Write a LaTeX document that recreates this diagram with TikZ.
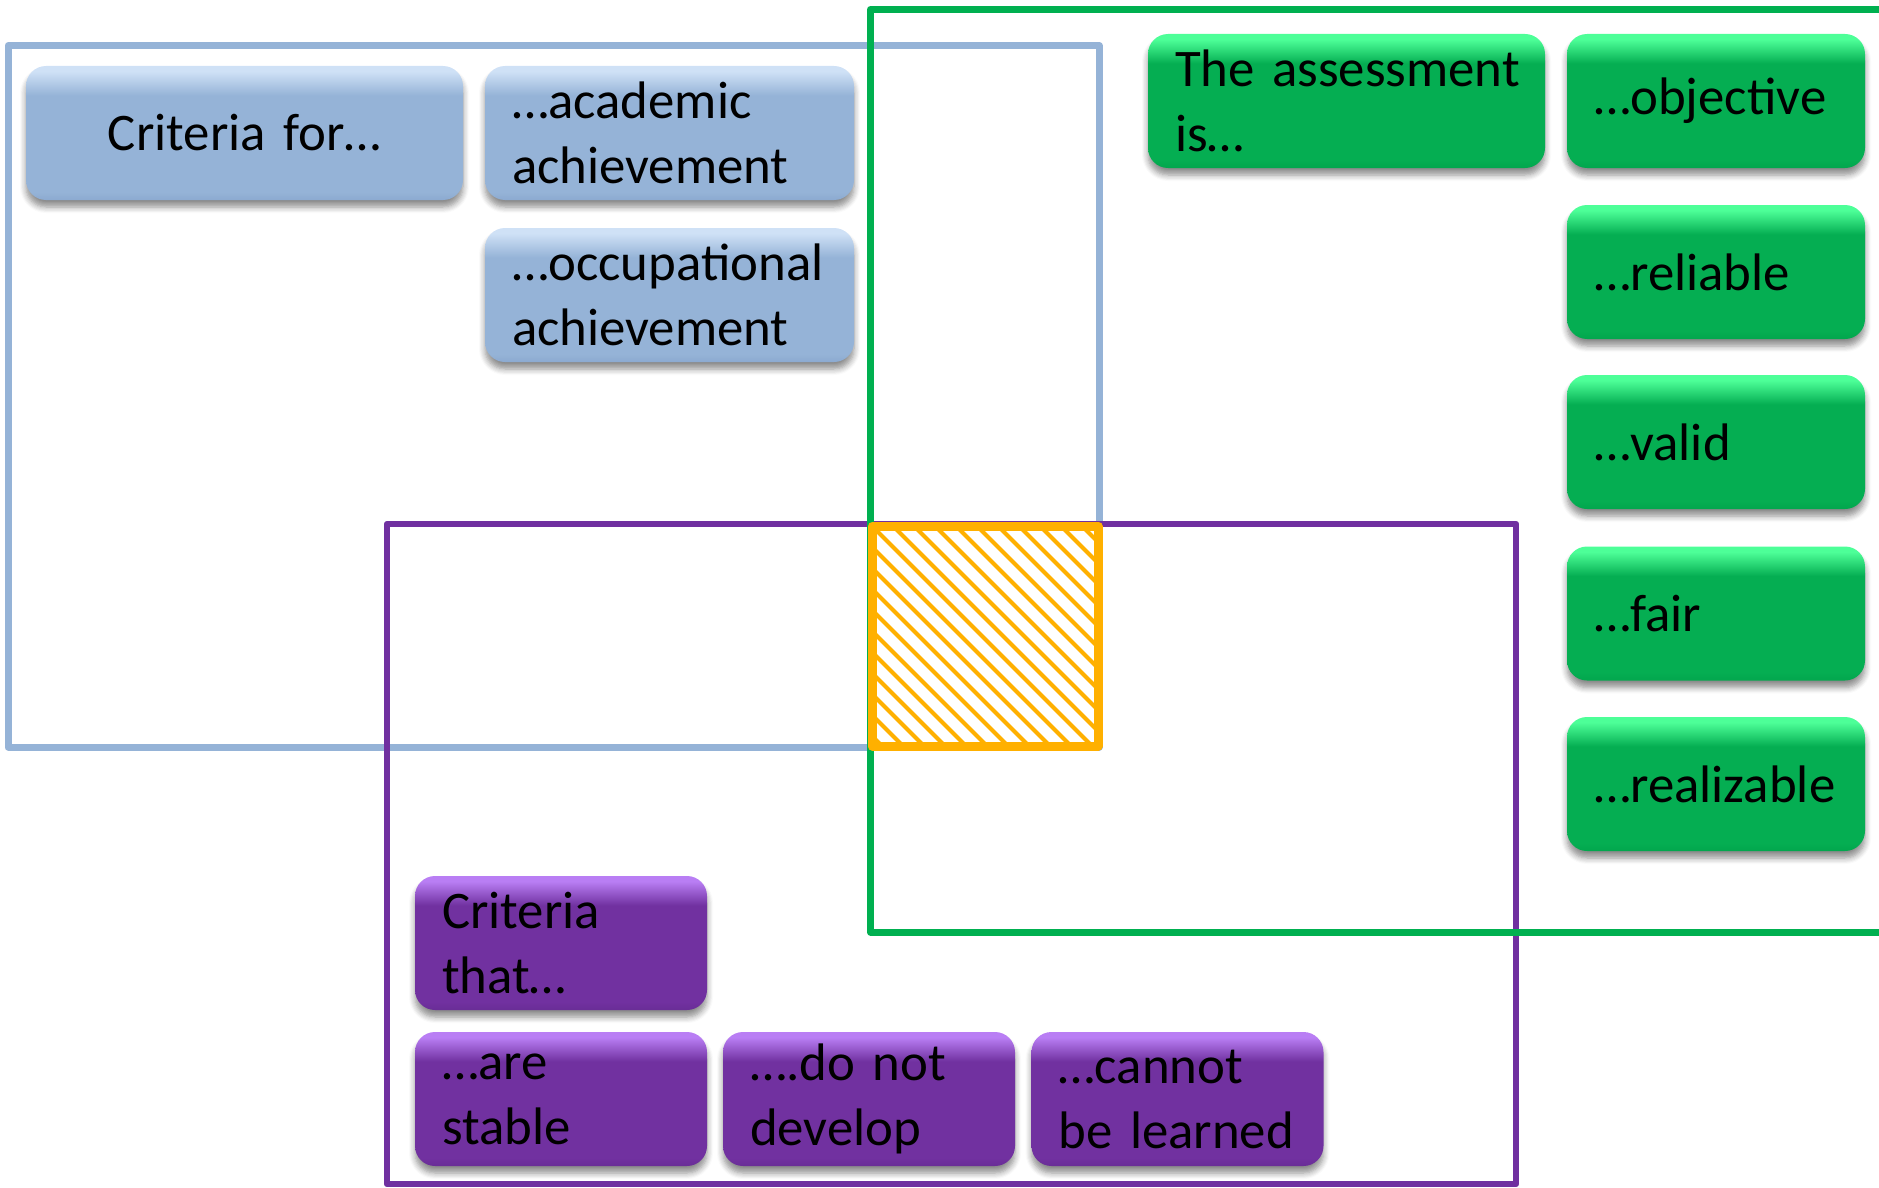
\documentclass[tikz,border=0pt]{standalone}
\usepackage{fontspec}
\setmainfont{Carlito}
\usetikzlibrary{shadows.blur}

% frame colours
\definecolor{framblue}{HTML}{95B3D7}
\definecolor{framgreen}{HTML}{00B050}
\definecolor{frampurple}{HTML}{7030A0}
\definecolor{framorange}{HTML}{FFB000}

% tile colours
\definecolor{bluebase}{HTML}{95B3D7}
\definecolor{bluelight}{HTML}{CFE1F6}
\definecolor{bluedark}{HTML}{8CAAD0}
\definecolor{greenbase}{HTML}{05AE52}
\definecolor{greenlight}{HTML}{4DFF98}
\definecolor{greendark}{HTML}{02A64D}
\definecolor{purplebase}{HTML}{7131A0}
\definecolor{purplelight}{HTML}{B97EF4}
\definecolor{purpledark}{HTML}{692D96}

% glossy vertical shadings (box mapped onto 25bp..75bp)
\pgfdeclareverticalshading{blueshade}{100bp}{color(0bp)=(bluedark); color(25bp)=(bluedark); color(28bp)=(bluebase); color(64bp)=(bluebase); color(73bp)=(bluelight); color(75bp)=(bluelight); color(100bp)=(bluelight)}
\pgfdeclareverticalshading{greenshade}{100bp}{color(0bp)=(greendark); color(25bp)=(greendark); color(28bp)=(greenbase); color(64bp)=(greenbase); color(73bp)=(greenlight); color(75bp)=(greenlight); color(100bp)=(greenlight)}
\pgfdeclareverticalshading{purpleshade}{100bp}{color(0bp)=(purpledark); color(25bp)=(purpledark); color(28bp)=(purplebase); color(64bp)=(purplebase); color(73bp)=(purplelight); color(75bp)=(purplelight); color(100bp)=(purplelight)}

\newcommand\tilefont{\fontsize{26.4pt}{32.5pt}\selectfont\hyphenpenalty=10000\relax}

\begin{document}
\begin{tikzpicture}[x=0.5pt,y=-0.5pt,
  framline/.style={line width=3.5pt, line join=round},
  tile/.style={rounded corners=10pt, minimum height=67pt, inner xsep=13.5pt,
    inner ysep=0pt, align=left, font=\tilefont, text=black,
    blur shadow={shadow xshift=0pt, shadow yshift=-3.5pt, shadow opacity=45,
      shadow blur steps=6, shadow blur radius=3pt}},
  bluetile/.style={tile, shade, shading=blueshade},
  greentile/.style={tile, shade, shading=greenshade},
  purpletile/.style={tile, shade, shading=purpleshade},
  wideblue/.style={text width=191.5pt, minimum width=218.5pt},
  midblue/.style={text width=157.5pt, minimum width=184.5pt},
  widegreen/.style={text width=171.5pt, minimum width=198.5pt},
  narrowgreen/.style={text width=122pt, minimum width=149pt},
  narrowpurple/.style={text width=119pt, minimum width=146pt}]

\useasboundingbox (0,0) rectangle (1879,1188);
\clip (0,0) rectangle (1879,1188);

% category frames
\draw[framline, framblue] (8,45.5) rectangle (1099,747);
\draw[framline, frampurple, line width=3.2pt] (387,524) rectangle (1516,1184);
\draw[framline, framgreen] (870.5,9.5) rectangle (1920,932);

% hatched intersection
\begin{scope}
  \clip (870,524) rectangle (1099,747);
  \foreach \k in {-252,-231,...,252}
    \draw[framorange, line width=2.1pt] (870+\k,524) -- ++(260,260);
\end{scope}
\draw[framorange, line width=4.5pt, line join=round] (872,526) rectangle (1098,746);

% blue group
\node[bluetile, wideblue, align=center] (critfor) at (244.5,133) {Criteria for…};
\node[bluetile, midblue] (acad) at (669.5,133) {…academic\\achievement};
\node[bluetile, midblue] (occup) at (669.5,295) {…occupational\\achievement};

% green group
\node[greentile, widegreen] (assess) at (1346.5,101) {\mbox{The assessment}\\is…};
\node[greentile, narrowgreen] (objective) at (1716,101) {…objective};
\node[greentile, narrowgreen] (reliable) at (1716,272) {…reliable};
\node[greentile, narrowgreen] (valid) at (1716,442) {…valid};
\node[greentile, narrowgreen] (fair) at (1716,613.5) {…fair};
\node[greentile, narrowgreen] (realizable) at (1716,784) {…realizable};

% purple group
\node[purpletile, narrowpurple] (critthat) at (561,943) {Criteria\\that…};
\node[purpletile, narrowpurple] (stable) at (561,1099) {…are\\stable};
\node[purpletile, narrowpurple] (develop) at (869,1099) {….do not\\develop};
\node[purpletile, narrowpurple] (learned) at (1177.5,1099) {…cannot\\be learned};

\end{tikzpicture}
\end{document}
